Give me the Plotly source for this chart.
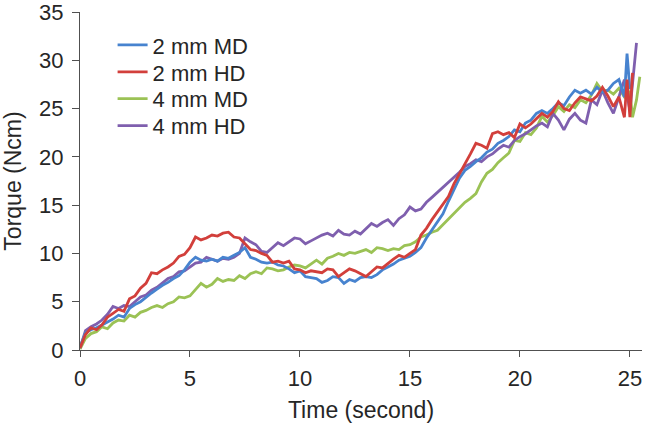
import plotly.graph_objects as go

# Sampling times (seconds) shared by the main part of every curve
TIME = [i * 0.25 for i in range(100)]  # 0 ... 24.75

# Torque (Ncm)
MD2 = [0.3, 1.8, 2.1, 2.3, 2.6, 2.9, 3.2, 3.6, 3.4, 4.3, 4.7, 5.0, 5.5, 5.9, 6.3, 6.7, 7.0, 7.4, 7.7, 8.3,
       9.1, 9.6, 9.3, 9.2, 9.4, 9.2, 9.6, 9.5, 9.8, 10.1, 10.6, 9.6, 9.4, 9.1, 9.0, 9.1, 8.8, 8.7, 8.4, 8.0,
       8.2, 7.6, 7.5, 7.4, 7.0, 7.2, 7.6, 7.5, 6.9, 7.3, 7.1, 7.5, 7.6, 7.5, 7.8, 8.3, 8.6, 8.9, 9.3, 9.5,
       9.7, 10.1, 10.6, 11.6, 12.4, 13.2, 14.1, 15.4, 16.6, 17.8, 18.6, 19.0, 19.5, 19.9, 20.5, 20.8, 21.4, 21.7, 22.1, 22.8,
       22.6, 23.5, 23.8, 24.5, 24.8, 24.5, 25.0, 25.6, 25.3, 26.2, 26.9, 26.6, 26.9, 26.5, 27.2, 26.7, 26.9, 27.6, 28.0, 26.2]
MD2_TAIL_T = [24.87, 25.0]
MD2_TAIL = [30.7, 27.0]

HD2 = [0.2, 1.6, 2.3, 2.1, 2.6, 3.4, 3.8, 4.2, 4.0, 5.3, 5.6, 6.4, 6.9, 8.0, 7.9, 8.3, 8.6, 9.0, 9.7, 9.9,
       10.6, 11.7, 11.4, 11.6, 11.9, 11.8, 12.1, 12.2, 11.7, 11.6, 11.0, 10.4, 10.3, 10.0, 9.8, 9.1, 9.2, 9.0, 9.2, 8.4,
       8.3, 8.0, 8.2, 8.1, 8.0, 8.4, 8.3, 7.6, 8.0, 8.4, 8.2, 7.9, 7.6, 8.1, 8.6, 8.5, 9.0, 9.4, 9.8, 9.6,
       10.0, 10.4, 11.9, 12.6, 13.5, 14.3, 15.0, 15.9, 17.2, 18.2, 19.2, 20.3, 21.4, 21.2, 20.9, 22.4, 22.6, 22.3, 22.5, 22.0,
       23.4, 23.0, 23.4, 24.0, 24.5, 24.1, 24.7, 25.7, 25.0, 24.8, 25.6, 26.2, 26.0, 25.8, 26.3, 27.2, 26.3, 25.2, 26.2, 24.1]
HD2_TAIL_T = [24.87, 25.0, 25.12]
HD2_TAIL = [28.0, 24.1, 28.7]

MD4 = [0.1, 1.2, 1.7, 1.9, 2.4, 2.2, 2.8, 3.1, 3.0, 3.6, 3.4, 3.9, 4.1, 4.4, 4.6, 4.4, 4.8, 5.0, 5.5, 5.4,
       5.6, 6.2, 6.9, 6.5, 6.8, 7.4, 7.1, 7.3, 7.2, 7.7, 7.4, 7.9, 8.1, 7.9, 8.5, 8.4, 8.2, 8.3, 8.6, 8.8,
       8.7, 8.5, 8.9, 9.3, 8.9, 9.5, 9.7, 10.0, 9.8, 10.1, 10.0, 10.2, 10.4, 10.1, 10.6, 10.5, 10.3, 10.5, 10.4, 10.8,
       10.9, 11.2, 11.7, 11.9, 12.2, 12.4, 13.0, 13.5, 14.1, 14.8, 15.3, 15.7, 16.2, 17.4, 18.3, 18.7, 19.4, 19.9, 20.4, 21.7,
       21.6, 22.5, 22.3, 23.0, 24.2, 23.6, 24.3, 25.2, 24.7, 25.4, 25.1, 25.9, 25.6, 26.4, 27.6, 26.8, 26.9, 26.5, 27.1, 26.2]
MD4_TAIL_T = [25.0, 25.12, 25.3, 25.45]
MD4_TAIL = [26.8, 24.1, 25.9, 28.3]

HD4 = [0.2, 2.0, 2.4, 2.7, 3.1, 3.7, 4.5, 4.3, 4.6, 4.5, 5.0, 5.5, 5.7, 6.2, 6.5, 7.0, 7.4, 7.6, 8.1, 8.2,
       8.6, 9.0, 9.1, 9.6, 9.4, 9.2, 9.5, 9.4, 9.6, 10.0, 11.6, 11.2, 10.9, 10.2, 10.1, 10.6, 11.1, 10.8, 11.2, 11.6,
       11.5, 11.0, 11.3, 11.6, 11.9, 12.1, 11.8, 12.4, 12.0, 11.9, 12.3, 12.0, 12.6, 13.1, 12.8, 13.2, 13.5, 12.9, 13.6, 14.0,
       14.8, 14.4, 14.6, 15.3, 15.8, 16.3, 16.9, 17.3, 17.9, 18.4, 19.0, 19.3, 19.7, 19.5, 20.0, 20.3, 20.8, 21.2, 21.0, 21.7,
       22.1, 22.4, 22.8, 23.2, 23.5, 23.1, 24.5, 23.8, 22.8, 23.9, 24.5, 23.8, 23.5, 25.9, 25.4, 26.9, 25.6, 24.5, 26.2, 28.0]
HD4_TAIL_T = [25.0, 25.15, 25.3]
HD4_TAIL = [24.8, 28.3, 31.8]

SERIES_NAMES = ["2 mm MD", "2 mm HD", "4 mm MD", "4 mm HD"]
COLORS = ["#4783CF", "#D23F3B", "#9BC255", "#7F5FAE"]
X_TICKS = [0, 5, 10, 15, 20, 25]
Y_TICKS = [0, 5, 10, 15, 20, 25, 30, 35]

series = [
    (TIME + MD2_TAIL_T, MD2 + MD2_TAIL),
    (TIME + HD2_TAIL_T, HD2 + HD2_TAIL),
    (TIME + MD4_TAIL_T, MD4 + MD4_TAIL),
    (TIME + HD4_TAIL_T, HD4 + HD4_TAIL),
]
legend_ids = ["legend", "legend2", "legend3", "legend4"]
legend_y = [0.902, 0.822, 0.743, 0.663]

FONT = "Liberation Sans, Arial, sans-serif"
TXT = "#262626"
AX = "#505050"

fig = go.Figure()
order = [2, 3, 0, 1]
for i in order:
    xs, ys = series[i]
    fig.add_trace(go.Scatter(x=xs, y=ys, mode="lines", name=SERIES_NAMES[i],
                             line=dict(color=COLORS[i], width=2.8),
                             legend=legend_ids[i]))

layout_legends = {}
for i, lid in enumerate(legend_ids):
    layout_legends[lid] = dict(x=0.058, y=legend_y[i], xanchor="left", yanchor="middle",
                               bgcolor="rgba(0,0,0,0)", borderwidth=0,
                               font=dict(family=FONT, size=22, color=TXT),
                               itemwidth=30)

fig.update_layout(
    width=651, height=423,
    margin=dict(l=80, r=9, t=12, b=73, autoexpand=False),
    plot_bgcolor="white", paper_bgcolor="white",
    font=dict(family=FONT, size=22, color=TXT),
    showlegend=True,
    **layout_legends,
)
fig.update_xaxes(range=[0, 25.55], tickvals=X_TICKS, showline=True, linecolor=AX, linewidth=1.4,
                 ticks="outside", ticklen=6, tickwidth=1.4, tickcolor=AX, showgrid=False, zeroline=False,
                 tickfont=dict(size=22, color=TXT), ticklabelstandoff=2, ticklabeloverflow="allow",
                 automargin=False,
                 title=dict(text="Time (second)", font=dict(size=23, color=TXT), standoff=22))
fig.update_yaxes(range=[0, 35], tickvals=Y_TICKS, showline=True, linecolor=AX, linewidth=1.4,
                 ticks="outside", ticklen=7, tickwidth=1.4, tickcolor=AX, showgrid=False, zeroline=False,
                 tickfont=dict(size=22, color=TXT), ticklabelstandoff=4, ticklabeloverflow="allow",
                 automargin=False,
                 title=dict(text="Torque (Ncm)", font=dict(size=23, color=TXT), standoff=10))

fig.write_html("out.html")
